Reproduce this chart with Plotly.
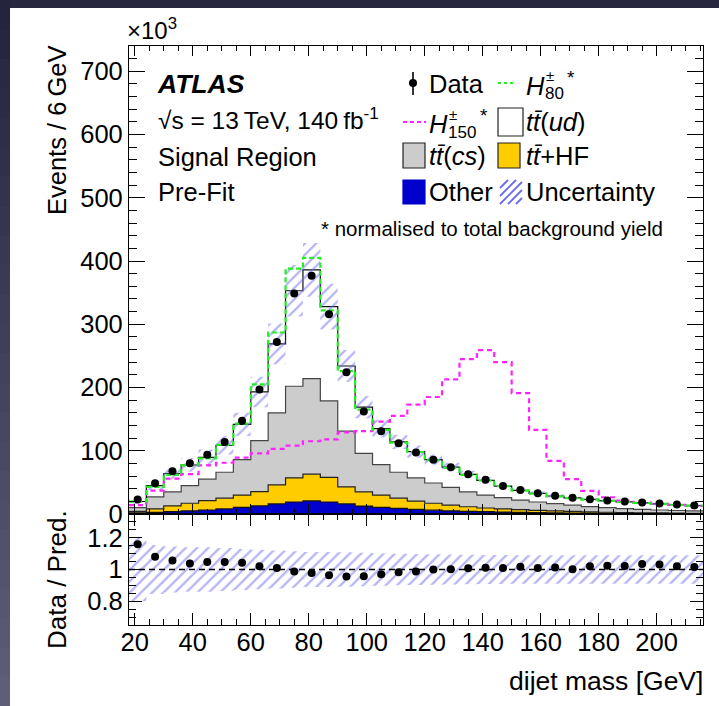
import plotly.graph_objects as go

# ---------------- data ----------------
bin_edges = list(range(18, 217, 6))          # 6 GeV bins, 18..216 GeV
other = [2, 2.6, 3.7, 5, 6.3, 8, 10.5, 13, 16, 19, 20.6, 19, 16, 12.5, 10.5, 8.8,
         7.4, 6, 5, 4.2, 3.6, 3, 2.6, 2.2, 1.9, 1.6, 1.4, 1.2, 1.0, 0.9, 0.8, 0.7, 0.6]
tt_hf = [2, 5.4, 9, 12, 14.7, 17, 19.5, 22.5, 30, 38, 42.4, 39, 27, 22.5, 19.5, 16.2,
         13.1, 11, 9, 7.3, 5.9, 5, 4.2, 3.6, 2.9, 2.4, 2.0, 1.6, 1.4, 1.1, 0.9, 0.7, 0.6]
tt_cs = [6, 19, 22.3, 28, 34, 41, 56, 80.5, 114, 145, 151, 121, 88, 61, 48, 41,
         36.5, 32, 28, 23.5, 20.5, 18, 15.2, 13.2, 11.7, 10, 8.2, 7.2, 6.1, 5.4, 4.6, 4.1, 3.6]
tt_ud = [9.8, 18, 29, 32.5, 34.5, 42.7, 55.7, 77, 109, 151, 172, 149, 103, 73, 57, 48,
         41.7, 37, 32, 27.5, 23.3, 18, 15.4, 13.5, 12, 11.5, 11.4, 11, 10.7, 10.1, 9.7, 9.1, 8.5]
data = [23, 48.7, 67.7, 80.4, 93.7, 113.8, 147.6, 196.8, 272, 348.7, 376.7, 315.9, 224,
        162, 130.7, 112, 97.4, 85.7, 74, 63, 54, 44.4, 38, 32.8, 28.9, 25.6, 23.5, 21.5,
        19.6, 18.1, 16.5, 14.9, 13.5]
ratio = [1.159, 1.08, 1.057, 1.038, 1.047, 1.047, 1.042, 1.02, 1.01, 0.988, 0.978, 0.964,
         0.956, 0.957, 0.97, 0.982, 0.988, 1.0, 1.001, 1.008, 1.011, 1.01, 1.017, 1.009,
         1.013, 1.002, 1.021, 1.023, 1.022, 1.035, 1.032, 1.021, 1.015]
rel_unc = [0.20, 0.155, 0.145, 0.14, 0.14, 0.135, 0.13, 0.125, 0.12, 0.115, 0.11, 0.11,
           0.108, 0.105, 0.103, 0.1, 0.098, 0.096, 0.094, 0.093, 0.092, 0.091, 0.09, 0.09,
           0.09, 0.09, 0.09, 0.09, 0.09, 0.09, 0.09, 0.09, 0.09]
h80 = [19.6, 43, 62, 77, 88, 109.5, 143, 205, 287, 388, 405, 322, 226, 165, 133, 113,
       98, 85, 73, 62, 53, 44, 37, 32, 28, 25, 22.8, 20.8, 19, 17.4, 15.9, 14.6, 13.3]
h150 = [14, 37, 56, 63, 77, 81, 89, 96, 103, 108, 115, 118, 129, 131, 146, 155, 173, 185,
        213, 245, 259, 240, 191, 133, 84, 55, 36.5, 26.5, 21, 18, 16, 14.3, 12.7]

x_ticks = [20, 40, 60, 80, 100, 120, 140, 160, 180, 200]
y_ticks = [0, 100, 200, 300, 400, 500, 600, 700]
r_ticks = [0.8, 1, 1.2]

# ---------------- derived ----------------
centers = [(a + b) / 2 for a, b in zip(bin_edges[:-1], bin_edges[1:])]
c1 = other[:]
c2 = [a + b for a, b in zip(c1, tt_hf)]
c3 = [a + b for a, b in zip(c2, tt_cs)]
c4 = [a + b for a, b in zip(c3, tt_ud)]
band_lo = [t * (1 - u) for t, u in zip(c4, rel_unc)]
band_hi = [t * (1 + u) for t, u in zip(c4, rel_unc)]
r_lo = [1 - u for u in rel_unc]
r_hi = [1 + u for u in rel_unc]


def step(vals):
    return bin_edges, list(vals) + [vals[-1]]


FONT = "Liberation Sans, Arial, Helvetica, sans-serif"
HATCH = "#6a6aee"
W, H = 719, 706
L, R, T, B = 129, 16, 46, 81
PW, PH = W - L - R, H - T - B
SPLIT = (625 - 514) / PH


def px(x):
    return (x - L) / PW


def py(y):
    return (H - B - y) / PH


fig = go.Figure()

# stacked backgrounds
stack = [(c1, "#0000cc", "#111111", "tozeroy"),
         (c2, "#ffcc00", "#222222", "tonexty"),
         (c3, "#cccccc", "#444444", "tonexty"),
         (c4, "#ffffff", "#111111", "tonexty")]
for vals, fc, lc, fill in stack:
    xs, ys = step(vals)
    fig.add_trace(go.Scatter(x=xs, y=ys, mode="lines", line=dict(shape="hv", color=lc, width=1.2),
                             fill=fill, fillcolor=fc, xaxis="x", yaxis="y", hoverinfo="skip"))

PATTERN = dict(shape="/", fgcolor=HATCH, bgcolor="rgba(0,0,0,0)", size=8, solidity=0.28)

# uncertainty band (main)
xs, ys = step(band_lo)
fig.add_trace(go.Scatter(x=xs, y=ys, mode="lines", line=dict(shape="hv", width=0),
                         xaxis="x", yaxis="y", hoverinfo="skip"))
xs, ys = step(band_hi)
fig.add_trace(go.Scatter(x=xs, y=ys, mode="lines", line=dict(shape="hv", width=0),
                         fill="tonexty", fillcolor="rgba(0,0,0,0)", fillpattern=PATTERN,
                         xaxis="x", yaxis="y", hoverinfo="skip"))

# signal templates
xs, ys = step(h150)
fig.add_trace(go.Scatter(x=xs, y=ys, mode="lines",
                         line=dict(shape="hv", color="#ff22ff", width=2.2, dash="5px,4px"),
                         xaxis="x", yaxis="y", hoverinfo="skip"))
xs, ys = step(h80)
fig.add_trace(go.Scatter(x=xs, y=ys, mode="lines",
                         line=dict(shape="hv", color="#22ee22", width=2.2, dash="5px,3px"),
                         xaxis="x", yaxis="y", hoverinfo="skip"))

# data
fig.add_trace(go.Scatter(x=centers, y=data, mode="markers",
                         marker=dict(color="black", size=8), xaxis="x", yaxis="y"))

# ratio panel
xs, ys = step(r_lo)
fig.add_trace(go.Scatter(x=xs, y=ys, mode="lines", line=dict(shape="hv", width=0),
                         xaxis="x2", yaxis="y2", hoverinfo="skip"))
xs, ys = step(r_hi)
fig.add_trace(go.Scatter(x=xs, y=ys, mode="lines", line=dict(shape="hv", width=0),
                         fill="tonexty", fillcolor="rgba(0,0,0,0)", fillpattern=PATTERN,
                         xaxis="x2", yaxis="y2", hoverinfo="skip"))
fig.add_trace(go.Scatter(x=[bin_edges[0], bin_edges[-1]], y=[1, 1], mode="lines",
                         line=dict(color="black", width=1.3, dash="6px,4px"),
                         xaxis="x2", yaxis="y2", hoverinfo="skip"))
fig.add_trace(go.Scatter(x=centers, y=ratio, mode="markers",
                         marker=dict(color="black", size=8), xaxis="x2", yaxis="y2"))

axis_common = dict(showline=True, linecolor="black", linewidth=1.3, mirror="ticks",
                   ticks="inside", tickcolor="black", showgrid=False, zeroline=False,
                   tickfont=dict(family=FONT, size=25.5, color="black"))
fig.update_layout(
    width=W, height=H, showlegend=False,
    margin=dict(l=L, r=R, t=T, b=B, pad=0),
    paper_bgcolor="#27283f", plot_bgcolor="rgba(0,0,0,0)",
    xaxis=dict(domain=[0, 1], anchor="y", range=[bin_edges[0], bin_edges[-1]],
               tickvals=x_ticks, showticklabels=False, ticklen=10, tickwidth=1.2,
               minor=dict(dtick=5, tick0=0, ticklen=5, ticks="inside", tickcolor="black"),
               **axis_common),
    yaxis=dict(domain=[SPLIT, 1], anchor="x", range=[0, 740], tickvals=y_ticks,
               ticklen=16, tickwidth=1.2, ticklabelstandoff=0,
               minor=dict(dtick=20, tick0=0, ticklen=8, ticks="inside", tickcolor="black"),
               **axis_common),
    xaxis2=dict(domain=[0, 1], anchor="y2", range=[bin_edges[0], bin_edges[-1]],
                tickvals=x_ticks, ticklen=12, tickwidth=1.2, matches="x",
                ticklabelstandoff=-6,
                minor=dict(dtick=5, tick0=0, ticklen=6, ticks="inside", tickcolor="black"),
                **axis_common),
    yaxis2=dict(domain=[0, SPLIT], anchor="x2", range=[0.65, 1.35], tickvals=r_ticks,
                ticklen=13, tickwidth=1.2, ticklabelstandoff=0,
                minor=dict(dtick=0.05, tick0=0, ticklen=7, ticks="inside", tickcolor="black"),
                **axis_common),
)

shapes = []
# page background: white card on dark frame
shapes.append(dict(type="rect", xref="paper", yref="paper", x0=px(10), x1=px(W + 2),
                   y0=py(H + 2), y1=py(8), fillcolor="white", line=dict(width=0), layer="below"))
n_strip = 24
for i in range(n_strip):
    f = i / (n_strip - 1)
    r = int(0x24 + f * (0x5e - 0x24))
    g = int(0x25 + f * (0x5e - 0x25))
    b = int(0x3c + f * (0x76 - 0x3c))
    y0 = i * H / n_strip
    shapes.append(dict(type="rect", xref="paper", yref="paper", x0=px(-1), x1=px(10),
                       y0=py(y0 + H / n_strip + 1), y1=py(y0 if i else -1),
                       fillcolor=f"rgb({r},{g},{b})", line=dict(width=0), layer="below"))


def box(x0, y0, x1, y1, fc, lc="#222222", lw=1.2):
    shapes.append(dict(type="rect", xref="paper", yref="paper", x0=px(x0), x1=px(x1),
                       y0=py(y1), y1=py(y0), fillcolor=fc, line=dict(color=lc, width=lw)))


def seg(x0, y0, x1, y1, color, width=1.5, dash="solid"):
    shapes.append(dict(type="line", xref="paper", yref="paper", x0=px(x0), x1=px(x1),
                       y0=py(y0), y1=py(y1), line=dict(color=color, width=width, dash=dash)))


# legend symbols
seg(413, 72, 413, 95, "black", 1.6)
shapes.append(dict(type="circle", xref="paper", yref="paper", x0=px(409), x1=px(417),
                   y0=py(87), y1=py(79), fillcolor="black", line=dict(color="black", width=0)))
seg(498, 83, 514, 83, "#22ee22", 2.2, "3px,3px")     # H80
seg(403, 122, 426, 122, "#ff22ff", 2.2, "4px,3px")   # H150
box(498, 108, 523, 136, "white")                      # tt(ud)
box(403, 143, 425, 168, "#cccccc")                    # tt(cs)
box(498, 143, 520, 168, "#ffcc00")                    # tt+HF
box(403, 180, 425, 204, "#0000cc", "#0000cc")         # Other
hx0, hx1, hy0, hy1 = 500, 522, 180, 204               # Uncertainty hatch sample
for d in (-16, -8, 0, 8, 16):
    sx, sy = hx0 + d, hy1
    ex, ey = sx + (hy1 - hy0), hy0
    if sx < hx0:
        sy -= hx0 - sx
        sx = hx0
    if ex > hx1:
        ey += ex - hx1
        ex = hx1
    if ex > sx:
        seg(sx, sy, ex, ey, HATCH, 1.8)

fig.update_layout(shapes=shapes)

anns = []


def txt(x, y, s, size=25.5, xanchor="left", yanchor="middle", angle=0, color="black"):
    anns.append(dict(xref="paper", yref="paper", x=px(x), y=py(y), text=s, showarrow=False,
                     xanchor=xanchor, yanchor=yanchor, textangle=angle,
                     font=dict(family=FONT, size=size, color=color), borderpad=0))


TB = "t\u0304"
txt(156, 84, "<b><i>ATLAS</i></b>", 26.5)
txt(157, 118, "\u221as = 13\u2009TeV, 140\u2009fb<sup>-1</sup>", 24.5)
txt(157, 157, "Signal Region", 25.5)
txt(157, 192, "Pre-Fit", 25.5)
txt(428, 84, "Data")
txt(525, 86, "<i>H</i>")
txt(545, 75, "\u00b1", 15)
txt(544, 94, "80", 17)
txt(566, 77, "*", 19)
txt(428, 124, "<i>H</i>")
txt(448, 114, "\u00b1", 15)
txt(447, 132, "150", 17)
txt(479, 116, "*", 19)
txt(525, 122, f"<i>t{TB}</i>(<i>ud</i>)")
txt(428, 156, f"<i>t{TB}</i>(<i>cs</i>)")
txt(525, 156, f"<i>t{TB}</i>+HF")
txt(428, 192, "Other")
txt(525, 192, "Uncertainty")
txt(664, 228, "* normalised to total background yield", 20.5, xanchor="right")
txt(126, 45, "\u00d710<sup>3</sup>", 24, yanchor="bottom")
txt(57, 130, "Events / 6\u2009GeV", 25.5, xanchor="center", angle=-90)
txt(57, 580, "Data / Pred.", 26, xanchor="center", angle=-90)
txt(704, 681, "dijet mass [GeV]", 26.5, xanchor="right")
fig.update_layout(annotations=anns)

fig.write_html("out.html", config={"displayModeBar": False},
               post_script="document.body.style.margin='0';"
                           "document.body.style.background='#27283f';")
